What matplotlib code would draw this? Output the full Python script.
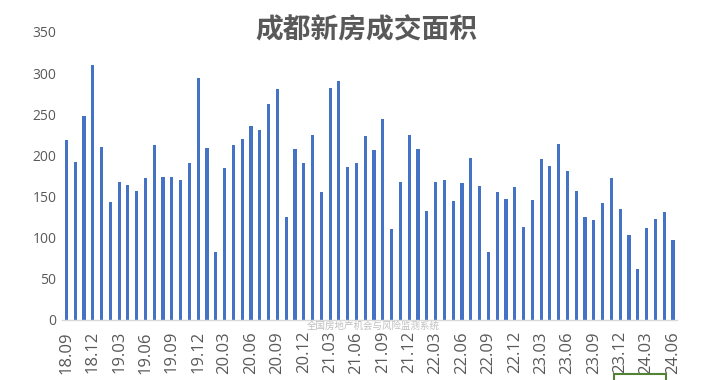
import numpy as np
import matplotlib.pyplot as plt
from matplotlib.patches import Rectangle

plt.rcParams['font.family'] = ['Noto Sans CJK SC', 'DejaVu Sans']

# monthly data, 2018.09 - 2024.06 (万平方米)
months = []
for y in range(18, 25):
    for m in range(1, 13):
        if (y == 18 and m < 9) or (y == 24 and m > 6):
            continue
        months.append("%02d.%02d" % (y, m))

area = [219, 192, 248, 310, 210, 143, 168, 164, 157, 173, 213, 174,
        174, 170, 191, 294, 209, 83, 185, 212, 220, 236, 231, 262,
        281, 125, 208, 191, 225, 156, 282, 290, 186, 191, 223, 207,
        244, 111, 168, 225, 208, 133, 168, 170, 145, 167, 197, 163,
        82, 156, 147, 162, 113, 146, 195, 187, 214, 181, 157, 125,
        122, 142, 173, 135, 103, 62, 112, 123, 131, 97]

gray = '#595959'

fig = plt.figure(figsize=(7.09, 3.80), dpi=100)
ax = fig.add_axes([0.0874, 0.158, 0.868, 0.758])

x = np.arange(len(months))
ax.bar(x, area, width=0.36, color='#4472C4')

ax.set_xlim(-0.5, len(months) - 0.5)
ax.set_ylim(0, 350)
ax.set_yticks(range(0, 351, 50))
ax.set_xticks(x[::3])
ax.set_xticklabels(months[::3], rotation=90, family=['Open Sans', 'DejaVu Sans'],
                   fontsize=12)
for lab in ax.get_yticklabels():
    lab.set_family(['Open Sans', 'DejaVu Sans'])
    lab.set_fontsize(10)
ax.tick_params(axis='both', length=0, colors=gray)
ax.tick_params(axis='y', pad=4)
ax.tick_params(axis='x', pad=8)

for s in ['top', 'right', 'left']:
    ax.spines[s].set_visible(False)
ax.spines['bottom'].set_color('#D9D9D9')
ax.spines['bottom'].set_linewidth(1)

fig.text(0.517, 0.921, '成都新房成交面积', ha='center', va='center',
         fontsize=20, fontweight='bold', color=gray)
fig.text(0.527, 0.141, '全国房地产机会与风险监测系统', ha='center', va='center',
         fontsize=6.8, color='#BFBFBF')

# green frame at the bottom right
fig.patches.append(Rectangle((614 / 709, -0.05), 52 / 709, (380 - 374) / 380 + 0.05,
                             transform=fig.transFigure, fill=False,
                             edgecolor='#548235', linewidth=1.5))

fig.savefig('out.png', dpi=100)
